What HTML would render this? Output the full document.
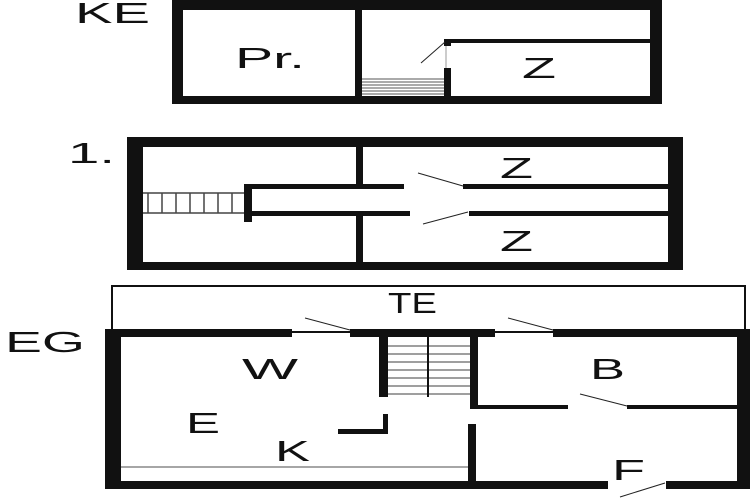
<!DOCTYPE html>
<html><head><meta charset="utf-8"><style>html,body{margin:0;padding:0;background:#fff}svg{display:block}</style></head><body>
<svg width="750" height="500" viewBox="0 0 750 500" xmlns="http://www.w3.org/2000/svg" font-family="Liberation Sans, sans-serif" fill="#111">
<rect width="750" height="500" fill="#fff"/>
<!-- KE -->
<g fill="#111">
<rect x="172" y="0" width="490" height="10"/>
<rect x="172" y="0" width="11" height="104"/>
<rect x="650" y="0" width="12" height="104"/>
<rect x="172" y="96" width="490" height="8"/>
<rect x="355" y="0" width="7" height="104"/>
<rect x="447" y="39" width="203" height="4"/>
<rect x="444" y="39" width="7" height="7"/>
<rect x="444" y="68" width="7" height="36"/>
</g>
<line x1="421" y1="63" x2="445" y2="42" stroke="#222" stroke-width="1"/>
<line x1="446" y1="46" x2="446" y2="68" stroke="#999" stroke-width="1"/>
<g stroke="#555" stroke-width="1">
<line x1="362" y1="79" x2="444" y2="79"/><line x1="362" y1="82" x2="444" y2="82"/><line x1="362" y1="85" x2="444" y2="85"/><line x1="362" y1="88" x2="444" y2="88"/><line x1="362" y1="91" x2="444" y2="91"/><line x1="362" y1="94" x2="444" y2="94"/>
</g>
<g font-size="29" lengthAdjust="spacingAndGlyphs">
<text x="235" y="68" textLength="70" lengthAdjust="spacingAndGlyphs">Pr.</text>
<text x="522" y="78" textLength="34" lengthAdjust="spacingAndGlyphs">Z</text>
<text x="75" y="23" textLength="75" lengthAdjust="spacingAndGlyphs">KE</text>
</g>
<!-- 1st -->
<g fill="#111">
<rect x="127" y="137" width="556" height="10"/>
<rect x="127" y="137" width="16" height="133"/>
<rect x="668" y="137" width="15" height="133"/>
<rect x="127" y="262" width="556" height="8"/>
<rect x="356" y="137" width="7" height="52"/>
<rect x="356" y="211" width="7" height="59"/>
<rect x="244" y="184" width="160" height="5"/>
<rect x="463" y="184" width="205" height="5"/>
<rect x="244" y="211" width="166" height="5"/>
<rect x="469" y="211" width="199" height="5"/>
<rect x="244" y="184" width="8" height="38"/>
</g>
<g stroke="#444" stroke-width="1.5">
<line x1="143" y1="193" x2="244" y2="193"/><line x1="143" y1="213" x2="244" y2="213"/>
<line x1="148" y1="193" x2="148" y2="213"/><line x1="162" y1="193" x2="162" y2="213"/><line x1="176" y1="193" x2="176" y2="213"/><line x1="190" y1="193" x2="190" y2="213"/><line x1="204" y1="193" x2="204" y2="213"/><line x1="218" y1="193" x2="218" y2="213"/><line x1="232" y1="193" x2="232" y2="213"/>
</g>
<line x1="418" y1="173" x2="463" y2="186" stroke="#222" stroke-width="1"/>
<line x1="423" y1="224" x2="468" y2="212" stroke="#222" stroke-width="1"/>
<g font-size="29">
<text x="500" y="178" textLength="33" lengthAdjust="spacingAndGlyphs">Z</text>
<text x="500" y="251" textLength="33" lengthAdjust="spacingAndGlyphs">Z</text>
<text x="68" y="163" textLength="47" lengthAdjust="spacingAndGlyphs">1.</text>
</g>
<!-- EG -->
<rect x="112" y="286" width="633" height="46" fill="none" stroke="#111" stroke-width="2"/>
<g fill="#111">
<rect x="105" y="329" width="187" height="8"/>
<rect x="350" y="329" width="145" height="8"/>
<rect x="553" y="329" width="197" height="8"/>
<rect x="105" y="329" width="16" height="160"/>
<rect x="737" y="329" width="13" height="160"/>
<rect x="105" y="481" width="503" height="8"/>
<rect x="666" y="481" width="84" height="8"/>
<rect x="379" y="337" width="9" height="60"/>
<rect x="470" y="337" width="8" height="72"/>
<rect x="470" y="405" width="98" height="4"/>
<rect x="627" y="405" width="110" height="4"/>
<rect x="383" y="414" width="5" height="20"/>
<rect x="338" y="429" width="50" height="5"/>
<rect x="468" y="424" width="8" height="60"/>
</g>
<g stroke="#666" stroke-width="1.2">
<line x1="388" y1="346" x2="470" y2="346"/><line x1="388" y1="354" x2="470" y2="354"/><line x1="388" y1="362" x2="470" y2="362"/><line x1="388" y1="370" x2="470" y2="370"/><line x1="388" y1="378" x2="470" y2="378"/><line x1="388" y1="386" x2="470" y2="386"/><line x1="388" y1="394" x2="470" y2="394"/>
</g>
<line x1="428" y1="337" x2="428" y2="397" stroke="#111" stroke-width="2"/>
<line x1="121" y1="467" x2="468" y2="467" stroke="#888" stroke-width="1.5"/>
<g stroke="#222" stroke-width="1">
<line x1="305" y1="318" x2="350" y2="330"/>
<line x1="508" y1="318" x2="553" y2="330"/>
<line x1="580" y1="394" x2="627" y2="406"/>
<line x1="620" y1="497" x2="665" y2="483"/>
</g>
<g font-size="29">
<text x="388" y="313" textLength="49" lengthAdjust="spacingAndGlyphs">TE</text>
<text x="242" y="379" textLength="56" lengthAdjust="spacingAndGlyphs">W</text>
<text x="590" y="379" textLength="35" lengthAdjust="spacingAndGlyphs">B</text>
<text x="186" y="433" textLength="34" lengthAdjust="spacingAndGlyphs">E</text>
<text x="275" y="461" textLength="35" lengthAdjust="spacingAndGlyphs">K</text>
<text x="612" y="480" textLength="33" lengthAdjust="spacingAndGlyphs">F</text>
<text x="5" y="352" textLength="80" lengthAdjust="spacingAndGlyphs">EG</text>
</g>
</svg>
</body></html>
